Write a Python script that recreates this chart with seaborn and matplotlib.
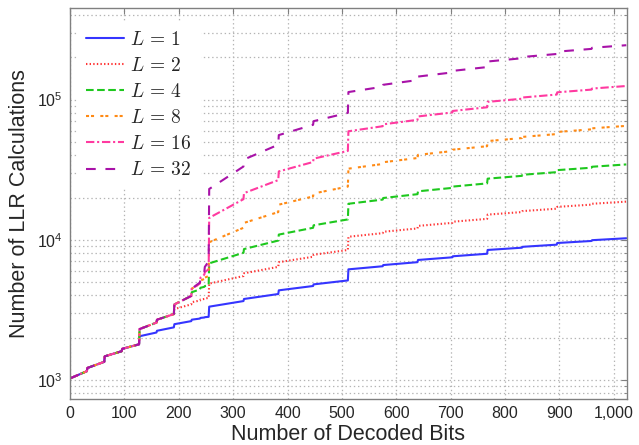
import matplotlib
matplotlib.use("Agg")
import matplotlib.pyplot as plt
import matplotlib.ticker as mticker
import seaborn as sns
import pandas as pd

bits = [0, 31, 32, 63, 64, 95, 96, 127, 128, 159, 160, 191, 192, 223, 224,
        239, 240, 247, 248, 255, 256, 319, 320, 383, 384, 447, 448, 511, 512,
        575, 576, 639, 640, 703, 704, 767, 768, 831, 832, 895, 896, 959, 960, 1023]

early = [1023, 1152, 1215, 1344, 1471, 1600, 1663, 1792]  # all L identical up to bit 127

llr_L1 = early + [2047, 2176, 2239, 2368, 2495, 2624, 2687, 2736, 2767, 2784, 2799, 2816,
                  3327, 3648, 3775, 4096, 4351, 4672, 4799, 5120, 6143, 6464, 6591, 6912,
                  7167, 7488, 7615, 7936, 8447, 8768, 8895, 9216, 9471, 9792, 9919, 10240]
llr_L2 = early + [2302, 2560, 2686, 2944, 3198, 3456, 3582, 3680, 3742, 3776, 3806, 3840,
                  4862, 5504, 5758, 6400, 6910, 7552, 7806, 8448, 10494, 11136, 11390, 12032,
                  12542, 13184, 13438, 14080, 15102, 15744, 15998, 16640, 17150, 17792, 18046, 18688]
llr_L4 = early + [2302, 2560, 2686, 2944, 3452, 3968, 4220, 4416, 4540, 4608, 4668, 4736,
                  6780, 8064, 8572, 9856, 10876, 12160, 12668, 13952, 18044, 19328, 19836, 21120,
                  22140, 23424, 23932, 25216, 27260, 28544, 29052, 30336, 31356, 32640, 33148, 34432]
llr_L8 = early + [2302, 2560, 2686, 2944, 3452, 3968, 4472, 4864, 5112, 5248, 5368, 5504,
                  9592, 12160, 13176, 15744, 17784, 20352, 21368, 23936, 32120, 34688, 35704, 38272,
                  40312, 42880, 43896, 46464, 50552, 53120, 54136, 56704, 58744, 61312, 62328, 64896]
llr_L16 = early + [2302, 2560, 2686, 2944, 3452, 3968, 4472, 4864, 5360, 5632, 5872, 6144,
                   14320, 19456, 21488, 26624, 30704, 35840, 37872, 43008, 59376, 64512, 66544, 71680,
                   75760, 80896, 82928, 88064, 96240, 101376, 103408, 108544, 112624, 117760, 119792, 124928]
llr_L32 = early + [2302, 2560, 2686, 2944, 3452, 3968, 4472, 4950, 5500, 5900, 6400, 7000,
                   23008, 33280, 37344, 47616, 55776, 66048, 70112, 80384, 113120, 123392, 127456, 137728,
                   145888, 156160, 160224, 170496, 186848, 197120, 201184, 211456, 219616, 229888, 233952, 244224]

list_sizes = [1, 2, 4, 8, 16, 32]
series = [llr_L1, llr_L2, llr_L4, llr_L8, llr_L16, llr_L32]

colors = ['#3535ff', '#ff3535', '#1ec81e', '#ff8a14', '#ff3aa0', '#a812a8']
styles = ['-', (0, (1, 1.6)), (0, (5.5, 2.5)), (0, (2.2, 1.4, 2.2, 4.5)),
          (0, (6, 2, 1.5, 2)), (0, (7, 7))]

sns.set_style("white")
plt.rcParams['font.family'] = ['Liberation Sans', 'DejaVu Sans']
plt.rcParams['mathtext.fontset'] = 'cm'
plt.rcParams['lines.scale_dashes'] = False

fig = plt.figure(figsize=(6.39, 4.45), dpi=100)
ax = fig.add_axes([0.1095, 0.1034, 0.8715, 0.8786])

for L, vals, c, ls in zip(list_sizes, series, colors, styles):
    df = pd.DataFrame({'bit': bits, 'llr': vals})
    sns.lineplot(data=df, x='bit', y='llr', ax=ax, estimator=None, sort=False,
                 color=c, linestyle=ls, linewidth=1.5, label=f'$L\\,=\\,{L}$')

ax.set_yscale('log')
ax.set_xlim(0, 1024)
ax.set_ylim(730, 4.5e5)
ax.set_xticks(range(0, 1001, 100))
ax.xaxis.set_major_formatter(mticker.StrMethodFormatter('{x:,.0f}'))

ax.grid(which='major', color='#b4b4b4', linestyle=(0, (1, 2)), linewidth=0.9)
ax.grid(which='minor', axis='y', color='#b4b4b4', linestyle=(0, (1, 2)), linewidth=0.9)
ax.tick_params(which='both', direction='in', top=True, right=True, color='#808080',
               labelsize=11.5)
ax.tick_params(which='major', length=4, pad=5)
ax.tick_params(which='minor', length=2.5)
for sp in ax.spines.values():
    sp.set_color('#808080')
    sp.set_linewidth(1.0)

ax.set_xlabel("Number of Decoded Bits", fontsize=15.5, labelpad=2)
ax.set_ylabel("Number of LLR Calculations", fontsize=15.5, labelpad=5)

leg = ax.legend(loc='upper left', bbox_to_anchor=(0, 0.982), fontsize=14, frameon=True,
                framealpha=1, facecolor='white', edgecolor='white', handlelength=2.0,
                handletextpad=0.3, labelspacing=0.42, borderaxespad=0.4, borderpad=0.4)

fig.savefig("out.png", dpi=100)
